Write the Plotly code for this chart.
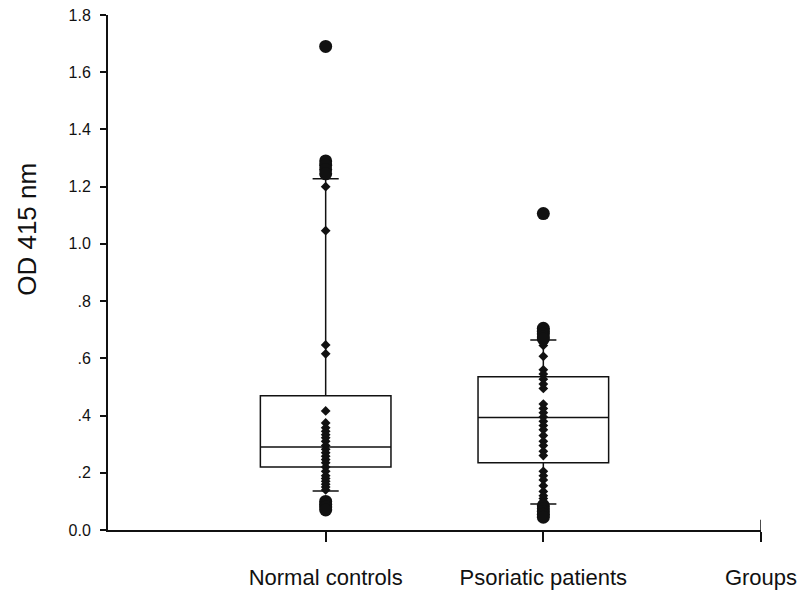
import plotly.graph_objects as go

# Groups on the category axis
groups = ["Normal controls", "Psoriatic patients"]
group_pos = [1, 2]
axis_end_label = "Groups"

# Box summary per group: 10th, 25th, 50th, 75th, 90th percentiles (OD 415 nm)
p10 = [0.136, 0.091]
q1 = [0.220, 0.235]
median = [0.290, 0.393]
q3 = [0.469, 0.536]
p90 = [1.228, 0.664]

# Individual measurements per group
normal_values = [
    1.69, 1.29, 1.275, 1.26, 1.245,
    1.20, 1.046, 0.647, 0.616,
    0.416, 0.374, 0.357, 0.345, 0.333, 0.322, 0.31, 0.295, 0.282, 0.27,
    0.258, 0.246, 0.235, 0.22, 0.205, 0.19, 0.18, 0.17, 0.16, 0.15, 0.14,
    0.10, 0.09, 0.08, 0.07,
]
psoriatic_values = [
    1.106, 0.705, 0.695, 0.685, 0.675, 0.668,
    0.645, 0.607, 0.56, 0.545, 0.527, 0.51, 0.495, 0.44, 0.425, 0.41,
    0.395, 0.38, 0.365, 0.35, 0.33, 0.31, 0.295, 0.275, 0.26, 0.205,
    0.19, 0.175, 0.155, 0.135, 0.12, 0.11, 0.10, 0.095,
    0.085, 0.075, 0.065, 0.055, 0.045,
]
values = [normal_values, psoriatic_values]

y_tickvals = [0.0, 0.2, 0.4, 0.6, 0.8, 1.0, 1.2, 1.4, 1.6, 1.8]
y_ticktext = ["0.0", ".2", ".4", ".6", ".8", "1.0", "1.2", "1.4", "1.6", "1.8"]
y_title = "OD 415 nm"

FONT = "Liberation Sans, Arial, sans-serif"
INK = "#111111"

fig = go.Figure()

# Boxes with whiskers at the 10th / 90th percentiles
for i, name in enumerate(groups):
    fig.add_trace(go.Box(
        x=[group_pos[i]],
        q1=[q1[i]], median=[median[i]], q3=[q3[i]],
        lowerfence=[p10[i]], upperfence=[p90[i]],
        width=0.6, whiskerwidth=0.2,
        fillcolor="rgba(255,255,255,0)",
        line=dict(color=INK, width=1.5),
        boxpoints=False, name=name, showlegend=False,
        hoverinfo="skip",
    ))

# Data points: small marks inside the whiskers, large dots beyond them
for i, name in enumerate(groups):
    inner = [v for v in values[i] if p10[i] <= v <= p90[i]]
    outer = [v for v in values[i] if v < p10[i] or v > p90[i]]
    fig.add_trace(go.Scatter(
        x=[group_pos[i]] * len(inner), y=inner, mode="markers",
        marker=dict(symbol="diamond", size=7.5, color=INK),
        showlegend=False, name=name,
    ))
    fig.add_trace(go.Scatter(
        x=[group_pos[i]] * len(outer), y=outer, mode="markers",
        marker=dict(symbol="circle", size=13, color=INK),
        showlegend=False, name=name,
    ))

fig.update_layout(
    width=802, height=595,
    margin=dict(l=108, r=41, t=15, b=65),
    paper_bgcolor="white", plot_bgcolor="white",
    font=dict(family=FONT, color=INK),
    showlegend=False,
    # y-axis title, set a little above the middle of the axis
    annotations=[dict(
        text=y_title, textangle=-90,
        xref="paper", yref="paper", x=-0.124, y=0.583,
        xanchor="center", yanchor="middle", showarrow=False,
        font=dict(size=26, family=FONT, color=INK),
    )],
    # end tick of the category axis crosses the axis line
    shapes=[dict(
        type="line", xref="x", yref="paper", x0=3, x1=3, y0=0, y1=0.02,
        line=dict(color=INK, width=1.5),
    )],
)
fig.update_xaxes(
    range=[0, 3],
    tickmode="array",
    tickvals=group_pos + [3],
    ticktext=groups + [axis_end_label],
    tickfont=dict(size=22, family=FONT, color=INK),
    showline=True, linecolor=INK, linewidth=2,
    ticks="outside", ticklen=10, tickwidth=1.5, tickcolor=INK,
    ticklabelstandoff=17,
    showgrid=False, zeroline=False, automargin=False,
)
fig.update_yaxes(
    range=[0, 1.8],
    tickmode="array", tickvals=y_tickvals, ticktext=y_ticktext,
    tickfont=dict(size=16, family=FONT, color=INK),
    showline=True, linecolor=INK, linewidth=2,
    ticks="outside", ticklen=6, tickwidth=1.5, tickcolor=INK,
    ticklabelstandoff=6,
    showgrid=False, zeroline=False, automargin=False,
)

fig.write_html("out.html")
